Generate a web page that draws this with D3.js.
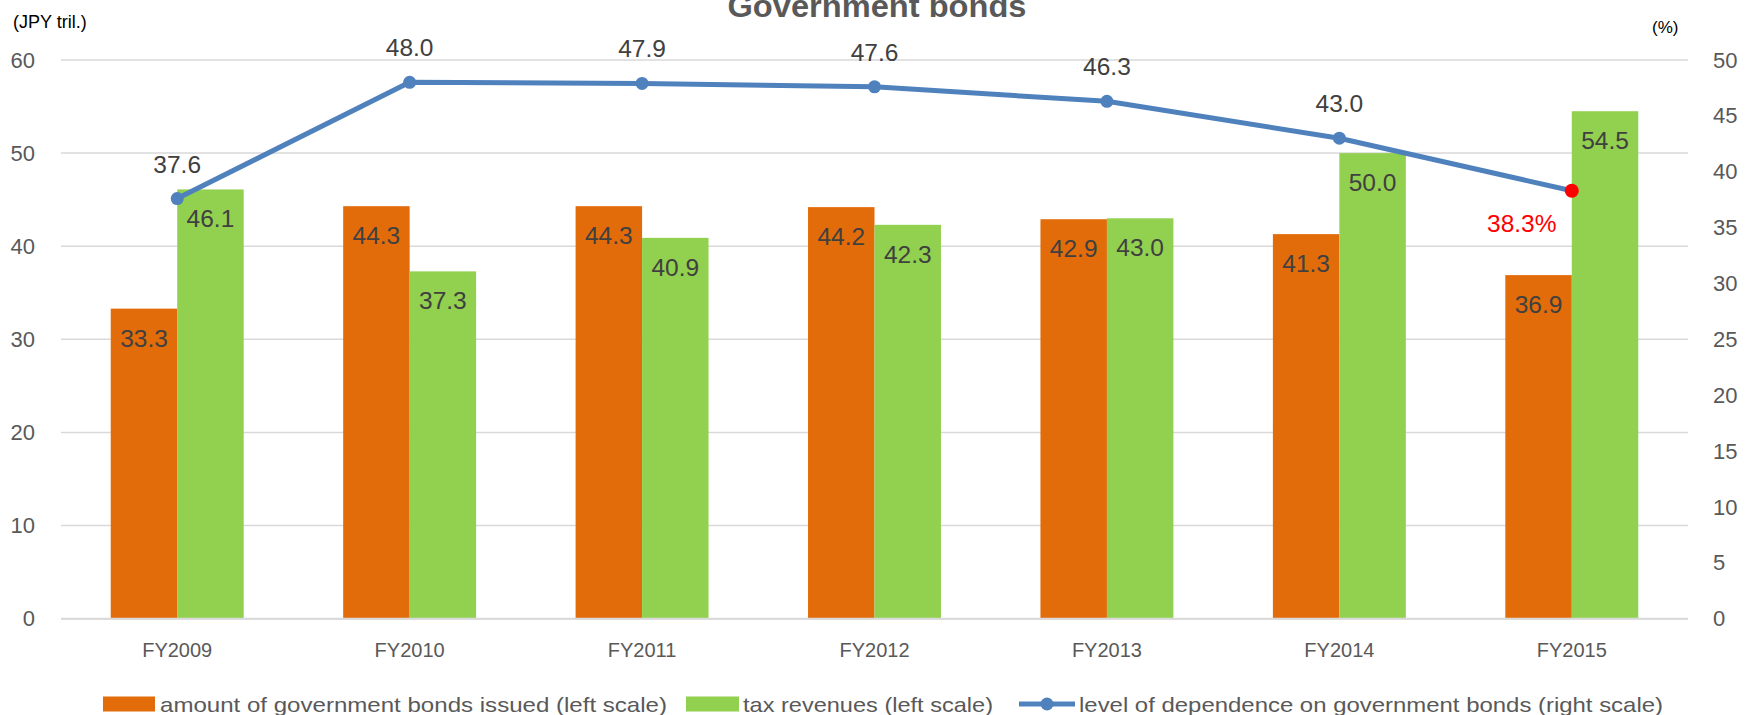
<!DOCTYPE html>
<html>
<head>
<meta charset="utf-8">
<script src="https://cdn.jsdelivr.net/npm/d3@7"></script>
<style>
  html, body { margin: 0; padding: 0; background: #fff; }
  svg { display: block; font-family: "Liberation Sans", Arial, sans-serif; }
</style>
</head>
<body>
<svg id="chart" width="1753" height="715"></svg>
<script>
const categories = ["FY2009", "FY2010", "FY2011", "FY2012", "FY2013", "FY2014", "FY2015"];
const bondsIssued = [33.3, 44.3, 44.3, 44.2, 42.9, 41.3, 36.9];
const taxRevenues = [46.1, 37.3, 40.9, 42.3, 43.0, 50.0, 54.5];
const dependence = [37.6, 48.0, 47.9, 47.6, 46.3, 43.0, 38.3];
const leftTicks = [0, 10, 20, 30, 40, 50, 60];
const rightTicks = [0, 5, 10, 15, 20, 25, 30, 35, 40, 45, 50];
const seriesNames = ["amount of government bonds issued (left scale)", "tax revenues (left scale)", "level of dependence on government bonds (right scale)"];
const title = "Government bonds";

const svg = d3.select("#chart");
const plot = { left: 61, right: 1688, top: 60, bottom: 618.7 };

const x = d3.scaleBand().domain(categories).range([plot.left, plot.right]).paddingInner(0.428).paddingOuter(0.214);
const xs = d3.scaleBand().domain(["bonds", "tax"]).range([0, x.bandwidth()]);
const yL = d3.scaleLinear().domain([0, 60]).range([plot.bottom, plot.top]);
const yR = d3.scaleLinear().domain([0, 50]).range([plot.bottom, plot.top]);

const colors = { bonds: "#E36C0A", tax: "#92D050", line: "#4F81BD" };
const textCol = "#404040", tickCol = "#595959";

// gridlines
svg.append("g").selectAll("line").data(leftTicks).join("line")
  .attr("x1", plot.left).attr("x2", plot.right)
  .attr("y1", d => yL(d)).attr("y2", d => yL(d))
  .attr("stroke", "#D9D9D9").attr("stroke-width", 1.5);

// left axis
const gL = svg.append("g").attr("transform", `translate(${plot.left - 26},0)`)
  .call(d3.axisLeft(yL).tickValues(leftTicks).tickSize(0).tickPadding(0));
gL.select(".domain").remove();
gL.selectAll("text").attr("font-size", 22).attr("fill", tickCol).attr("font-family", "Liberation Sans, Arial, sans-serif");

// right axis
const gR = svg.append("g").attr("transform", `translate(${plot.right + 25},0)`)
  .call(d3.axisRight(yR).tickValues(rightTicks).tickSize(0).tickPadding(0));
gR.select(".domain").remove();
gR.selectAll("text").attr("font-size", 22).attr("fill", tickCol).attr("font-family", "Liberation Sans, Arial, sans-serif");

// bottom axis labels
const gX = svg.append("g").attr("transform", `translate(0,${plot.bottom})`)
  .call(d3.axisBottom(x).tickSize(0).tickPadding(0));
gX.select(".domain").remove();
gX.selectAll("text").attr("font-size", 20).attr("fill", tickCol).attr("dy", 0).attr("y", 38)
  .attr("font-family", "Liberation Sans, Arial, sans-serif");

// bars
const groups = svg.append("g").selectAll("g").data(categories).join("g")
  .attr("transform", d => `translate(${x(d)},0)`);
const barData = (c, i) => [
  { key: "bonds", v: bondsIssued[i] },
  { key: "tax", v: taxRevenues[i] }
];
groups.each(function(c, i) {
  const g = d3.select(this);
  const bd = barData(c, i);
  g.selectAll("rect").data(bd).join("rect")
    .attr("x", d => xs(d.key)).attr("width", xs.bandwidth())
    .attr("y", d => yL(d.v)).attr("height", d => yL(0) - yL(d.v))
    .attr("fill", d => colors[d.key]);
  g.selectAll("text").data(bd).join("text")
    .attr("x", d => xs(d.key) + xs.bandwidth() / 2)
    .attr("y", d => yL(d.v) + 38)
    .attr("text-anchor", "middle").attr("font-size", 24.5).attr("fill", textCol)
    .text(d => d.v.toFixed(1));
});

// axis baseline
svg.append("line").attr("x1", plot.left).attr("x2", plot.right)
  .attr("y1", yL(0)).attr("y2", yL(0)).attr("stroke", "#D9D9D9").attr("stroke-width", 2);

// line
const cx = c => x(c) + x.bandwidth() / 2;
const lineGen = d3.line().x((d, i) => cx(categories[i])).y(d => yR(d));
svg.append("path").datum(dependence).attr("d", lineGen)
  .attr("fill", "none").attr("stroke", colors.line).attr("stroke-width", 5).attr("stroke-linejoin", "round");
const last = dependence.length - 1;
svg.append("g").selectAll("circle").data(dependence).join("circle")
  .attr("cx", (d, i) => cx(categories[i])).attr("cy", d => yR(d))
  .attr("r", (d, i) => i === last ? 7 : 6.5)
  .attr("fill", (d, i) => i === last ? "#FF0000" : colors.line);
svg.append("g").selectAll("text").data(dependence).join("text")
  .attr("x", (d, i) => i === last ? cx(categories[i]) - 50 : cx(categories[i]))
  .attr("y", (d, i) => i === last ? yR(d) + 41 : yR(d) - 26)
  .attr("text-anchor", "middle").attr("font-size", 24.5)
  .attr("fill", (d, i) => i === last ? "#FF0000" : textCol)
  .text((d, i) => i === last ? d.toFixed(1) + "%" : d.toFixed(1));

// unit labels
svg.append("text").attr("x", 13).attr("y", 28).attr("font-size", 18).attr("fill", "#000").text("(JPY tril.)");
svg.append("text").attr("x", 1652).attr("y", 33).attr("font-size", 17).attr("fill", "#000").text("(%)");

// title
svg.append("text").attr("x", 877).attr("y", 17).attr("text-anchor", "middle")
  .attr("font-size", 31).attr("font-weight", "bold").attr("fill", tickCol)
  .attr("textLength", 299).attr("lengthAdjust", "spacingAndGlyphs").text(title);

// legend
const leg = svg.append("g");
const ly = 704;
leg.append("rect").attr("x", 103).attr("y", ly - 7.5).attr("width", 52).attr("height", 15).attr("fill", colors.bonds);
leg.append("text").attr("x", 160).attr("y", ly + 8).attr("font-size", 21).attr("fill", tickCol)
  .attr("textLength", 507).attr("lengthAdjust", "spacingAndGlyphs").text(seriesNames[0]);
leg.append("rect").attr("x", 686).attr("y", ly - 7.5).attr("width", 53).attr("height", 15).attr("fill", colors.tax);
leg.append("text").attr("x", 743).attr("y", ly + 8).attr("font-size", 21).attr("fill", tickCol)
  .attr("textLength", 250).attr("lengthAdjust", "spacingAndGlyphs").text(seriesNames[1]);
leg.append("line").attr("x1", 1019).attr("x2", 1075).attr("y1", ly).attr("y2", ly)
  .attr("stroke", colors.line).attr("stroke-width", 5);
leg.append("circle").attr("cx", 1047).attr("cy", ly).attr("r", 6.5).attr("fill", colors.line);
leg.append("text").attr("x", 1079).attr("y", ly + 8).attr("font-size", 21).attr("fill", tickCol)
  .attr("textLength", 584).attr("lengthAdjust", "spacingAndGlyphs").text(seriesNames[2]);
</script>
</body>
</html>
